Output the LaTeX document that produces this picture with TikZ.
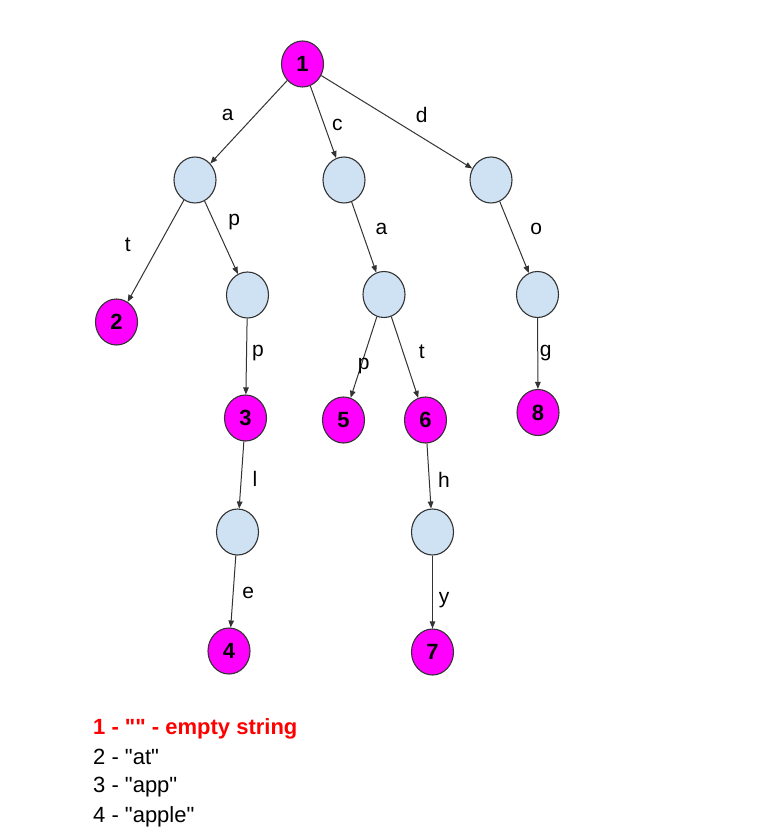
\documentclass[tikz,border=0pt]{standalone}
\usepackage{fontspec}
\setmainfont{Liberation Sans}[Ligatures=TeXOff]
\usetikzlibrary{arrows.meta,shapes.geometric}
\definecolor{mag}{HTML}{FF00FF}
\definecolor{lblue}{HTML}{CFE2F3}
\definecolor{edgec}{HTML}{333333}
\begin{document}
\begin{tikzpicture}[x=1pt,y=-1pt,
  base/.style={ellipse,draw=edgec,line width=1.1pt,minimum width=42pt,minimum height=46pt,inner sep=0pt},
  word/.style={base,fill=mag,font=\fontsize{22}{22}\selectfont\bfseries},
  mid/.style={base,fill=lblue},
  conn/.style={draw=edgec,line width=1pt,-{Triangle[length=7pt,width=5.5pt]}},
  lbl/.style={font=\fontsize{21}{21}\selectfont,text=black,inner sep=0pt},
  legend/.style={font=\fontsize{22}{22}\selectfont,anchor=base west,inner sep=0pt}]
\useasboundingbox (0,0) rectangle (774,834);
\fill[white] (0,0) rectangle (774,834);
\node[word] (n1) at (302.5,64) {1};
\node[mid] (na) at (195,180) {};
\node[mid] (nc) at (344,180) {};
\node[mid] (nd) at (491,180) {};
\node[word] (n2) at (116.5,322) {2};
\node[mid] (np) at (247.5,295) {};
\node[word] (n3) at (245.5,418) {3};
\node[mid] (nl) at (237.5,532) {};
\node[word] (n4) at (229,651) {4};
\node[mid] (nca) at (384,294.5) {};
\node[word] (n5) at (343.5,420) {5};
\node[word] (n6) at (425.5,420) {6};
\node[mid] (nh) at (432.5,532) {};
\node[word] (n7) at (432.5,652) {7};
\node[mid] (no) at (537.5,294.5) {};
\node[word] (n8) at (538,412.5) {8};

\draw[conn] (n1) -- node[lbl,xshift=-21pt,yshift=7pt]{a} (na);
\draw[conn] (n1) -- node[lbl,xshift=14pt,yshift=-3pt]{c} (nc);
\draw[conn] (n1) -- node[lbl,xshift=25pt,yshift=7pt]{d} (nd);
\draw[conn] (na) -- node[lbl,xshift=-28pt,yshift=6pt]{t} (n2);
\draw[conn] (na) -- node[lbl,xshift=13pt,yshift=15pt]{p} (np);
\draw[conn] (np) -- node[lbl,xshift=11.5pt,yshift=3.5pt]{p} (n3);
\draw[conn] (n3) -- node[lbl,xshift=13.5pt,yshift=-4pt]{l} (nl);
\draw[conn] (nl) -- node[lbl,xshift=15pt,yshift=-1.5pt]{e} (n4);
\draw[conn] (nc) -- node[lbl,xshift=17.5pt,yshift=8pt]{a} (nca);
\draw[conn] (nca) -- node[lbl,xshift=0pt,yshift=-9pt]{p} (n5);
\draw[conn] (nca) -- node[lbl,xshift=17pt,yshift=5pt]{t} (n6);
\draw[conn] (n6) -- node[lbl,xshift=15pt,yshift=-4pt]{h} (nh);
\draw[conn] (nh) -- node[lbl,xshift=11.5pt,yshift=-8pt]{y} (n7);
\draw[conn] (nd) -- node[lbl,xshift=22pt,yshift=8pt]{o} (no);
\draw[conn] (no) -- node[lbl,xshift=8pt,yshift=0pt]{g} (n8);

\node[legend,text=red,font=\fontsize{22}{22}\selectfont\bfseries] (l1) at (93,734) {1 - "" - empty string};
\node[legend] (l2) at (93,764) {2 - "at"};
\node[legend] (l3) at (93,792) {3 - "app"};
\node[legend] (l4) at (93,822) {4 - "apple"};
\end{tikzpicture}
\end{document}
